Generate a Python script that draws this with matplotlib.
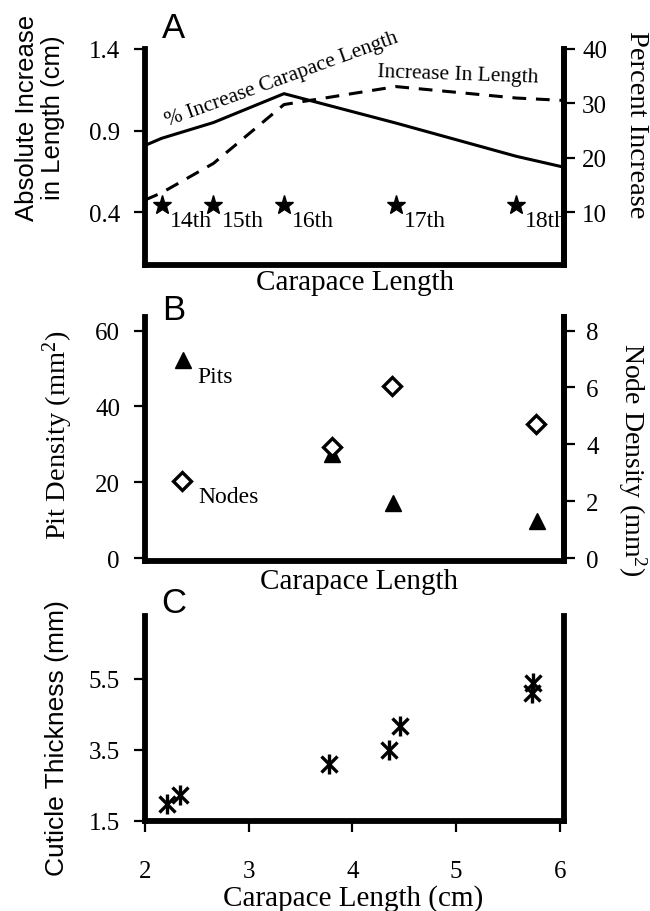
import numpy as np
import matplotlib
matplotlib.use("Agg")
import matplotlib.pyplot as plt

plt.rcParams['mathtext.fontset'] = 'custom'
plt.rcParams['mathtext.rm'] = 'Liberation Serif'
plt.rcParams['mathtext.default'] = 'rm'

SERIF = 'Liberation Serif'
SANS = 'Liberation Sans'

# Panel A data
molt_x = [2.16, 2.66, 3.34, 4.42, 5.58]
molt_labels = ['14th', '15th', '16th', '17th', '18th']
molt_y = [0.445, 0.445, 0.445, 0.445, 0.445]
line_x = [2.0, 2.16, 2.66, 3.34, 4.42, 5.58, 6.04]
abs_increase = [0.476, 0.52, 0.70, 1.06, 1.17, 1.10, 1.085]
pct_increase = [22.3, 23.6, 26.5, 31.8, 26.4, 20.3, 18.3]

# Panel B data
pit_x = [2.37, 3.80, 4.39, 5.78]
pit_density = [52.2, 27.4, 14.6, 9.8]
node_x = [2.36, 3.80, 4.38, 5.77]
node_density = [2.70, 3.91, 6.07, 4.73]

# Panel C data
cut_x = [2.215, 2.34, 3.77, 4.35, 4.46, 5.73, 5.74]
cut_thick = [1.97, 2.23, 3.11, 3.50, 4.18, 5.11, 5.39]

W, H = 650, 912
fig = plt.figure(figsize=(6.5, 9.12), dpi=100)


def px_axes(left, right, top, bottom):
    return fig.add_axes([left / W, 1 - bottom / H, (right - left) / W, (bottom - top) / H])


def style(ax, lw=4.2):
    for s in ['left', 'right', 'bottom']:
        ax.spines[s].set_linewidth(lw)
    ax.spines['top'].set_visible(False)
    ax.tick_params(direction='out', length=8, width=1.6, labelsize=18)
    for lab in ax.get_yticklabels() + ax.get_xticklabels():
        lab.set_family(SERIF)


XLIM = (2.0, 6.04)

# ---------------- Panel A ----------------
axA = px_axes(145, 564, 50, 265.7)
axA2 = axA.twinx()
axA.set_xlim(*XLIM)
axA.set_ylim(0.08, 1.4)
axA2.set_ylim(0.4, 40)
axA.set_yticks([0.4, 0.9, 1.4])
axA.set_yticklabels(['0.4', '0.9', '1.4'])
axA2.set_yticks([10, 20, 30, 40])
axA.set_xticks([])
axA.plot(line_x, abs_increase, color='black', lw=2.2, ls=(0, (4.5, 3.2)), clip_on=False)
axA2.plot(line_x, pct_increase, color='black', lw=2.2, clip_on=False)
axA.plot(molt_x, molt_y, ls='none', marker='*', ms=14, color='black')
for x, y, t in zip(molt_x, molt_y, molt_labels):
    axA.annotate(t, (x, y), xytext=(6, -11), textcoords='offset points',
                 ha='left', va='center', family=SERIF, fontsize=17)
axA.text(3.32, 1.215, '% Increase Carapace Length', rotation=20, ha='center', va='center',
         family=SERIF, fontsize=15.5, rotation_mode='anchor')
axA.text(5.02, 1.245, 'Increase In Length', rotation=-2, ha='center', va='center',
         family=SERIF, fontsize=15.5, rotation_mode='anchor')
style(axA)
style(axA2)
axA.tick_params(pad=10)
axA2.tick_params(pad=5)
axA2.spines['left'].set_visible(False)
axA2.spines['bottom'].set_visible(False)

# ---------------- Panel B ----------------
axB = px_axes(145, 564, 318, 561.7)
axB2 = axB.twinx()
axB.set_xlim(*XLIM)
axB.set_ylim(-0.7, 63.6)
axB2.set_ylim(-0.7 * 8 / 60, 63.6 * 8 / 60)
axB.set_yticks([0, 20, 40, 60])
axB2.set_yticks([0, 2, 4, 6, 8])
axB.set_xticks([])
axB.plot(pit_x, pit_density, ls='none', marker='^', ms=11, color='black', zorder=3)
axB2.plot(node_x, node_density, ls='none', marker='D', ms=9, mfc='white', mec='black', mew=2.4, zorder=4)
axB.annotate('Pits', (pit_x[0], pit_density[0]), xytext=(10, -12), textcoords='offset points',
             ha='left', va='center', family=SERIF, fontsize=17)
axB.annotate('Nodes', (node_x[0], node_density[0] * 60 / 8), xytext=(11.5, -11), textcoords='offset points',
             ha='left', va='center', family=SERIF, fontsize=17)
style(axB)
style(axB2)
axB.tick_params(pad=10)
axB2.tick_params(pad=8)
axB2.spines['left'].set_visible(False)
axB2.spines['bottom'].set_visible(False)

# ---------------- Panel C ----------------
axC = px_axes(145, 564, 617, 821.7)
axC.set_xlim(*XLIM)
axC.set_ylim(1.5, 7.27)
axC.set_yticks([1.5, 3.5, 5.5])
axC.set_xticks([2, 3, 4, 5, 6])
axC.plot(cut_x, cut_thick, ls='none', marker='x', ms=12, mew=2.4, color='black', clip_on=False)
axC.plot(cut_x, cut_thick, ls='none', marker='|', ms=14, mew=2.4, color='black', clip_on=False)
axC.spines['right'].set_visible(True)
style(axC)
axC.tick_params(axis='y', pad=10)
axC.tick_params(axis='x', pad=20)

# ---------------- Labels ----------------
fig.text(40 / W, 1 - 118 / H, 'Absolute Increase\nin Length (cm)', rotation=90, ha='center', va='center',
         family=SANS, fontsize=18.5, linespacing=1.15)
fig.text(636 / W, 1 - 125 / H, 'Percent Increase', rotation=270, ha='center', va='center',
         family=SERIF, fontsize=20.5)
fig.text(355 / W, 1 - 283 / H, 'Carapace Length', ha='center', va='center', family=SERIF, fontsize=21)

fig.text(58 / W, 1 - 435 / H, 'Pit Density (mm$^{2}$)', rotation=90, ha='center', va='center',
         family=SERIF, fontsize=20.5)
fig.text(632 / W, 1 - 460 / H, 'Node Density (mm$^{2}$)', rotation=270, ha='center', va='center',
         family=SERIF, fontsize=20)
fig.text(359 / W, 1 - 582 / H, 'Carapace Length', ha='center', va='center', family=SERIF, fontsize=21)

fig.text(57 / W, 1 - 738 / H, 'Cuticle Thickness (mm)', rotation=90, ha='center', va='center',
         family=SANS, fontsize=19)
fig.text(353 / W, 1 - 899 / H, 'Carapace Length (cm)', ha='center', va='center', family=SERIF, fontsize=21)

for lab, yc in [('A', 29), ('B', 311), ('C', 604)]:
    fig.text(174 / W, 1 - yc / H, lab, ha='center', va='center', family=SANS, fontsize=25)

fig.savefig('out.png', dpi=100)
